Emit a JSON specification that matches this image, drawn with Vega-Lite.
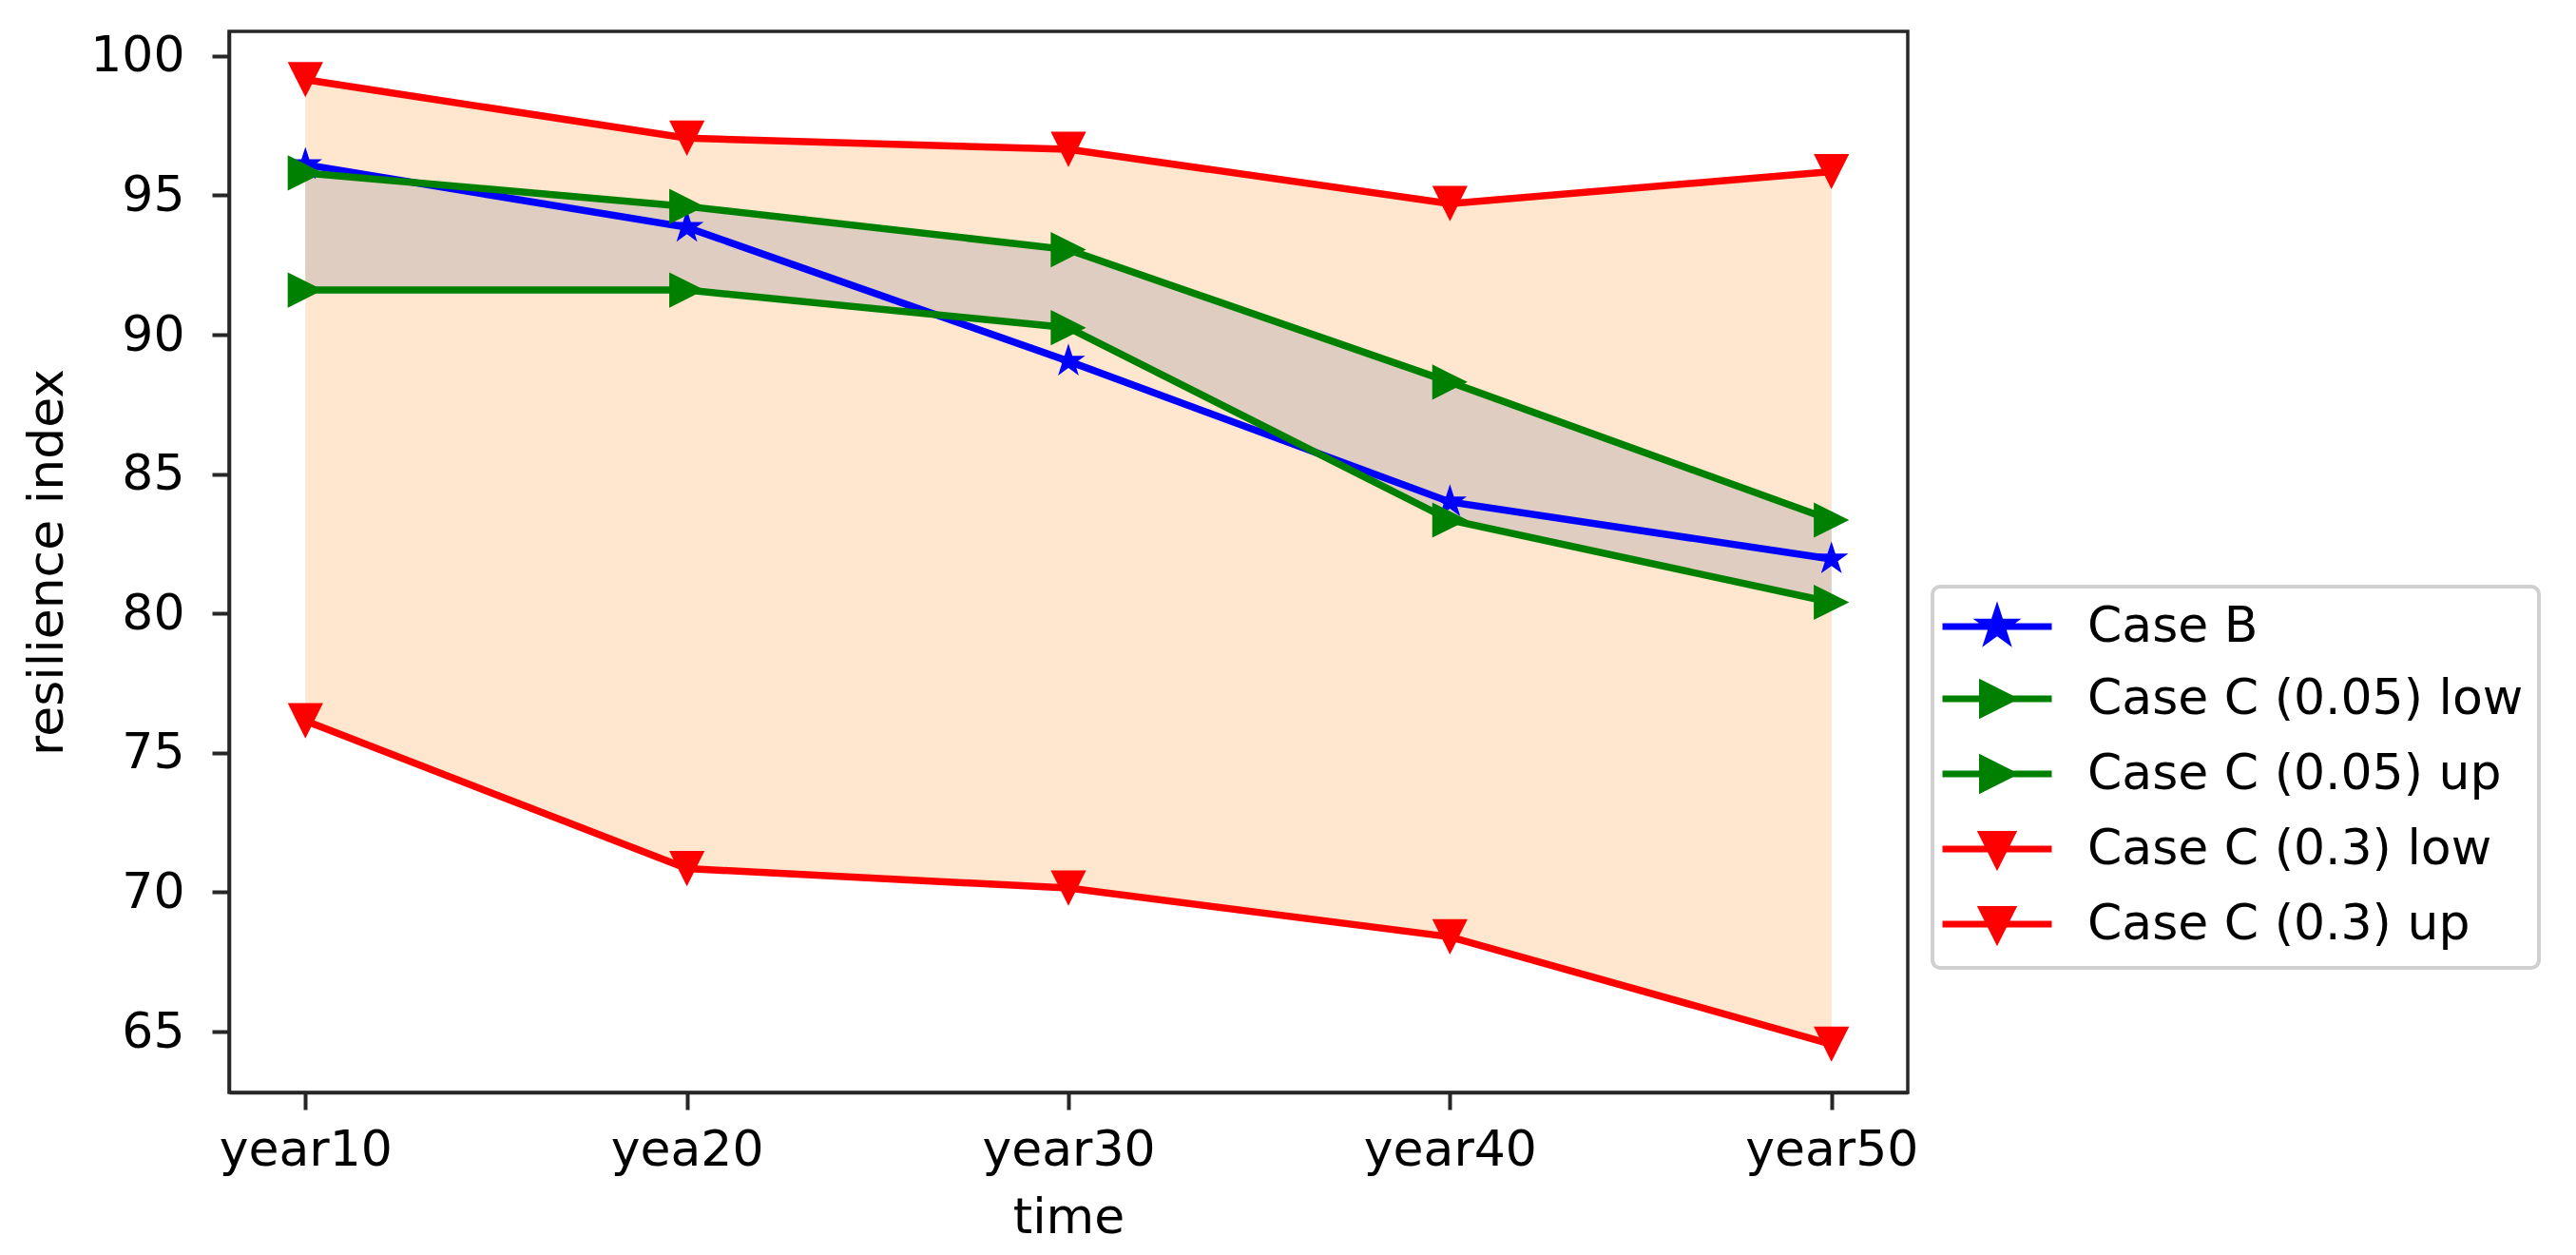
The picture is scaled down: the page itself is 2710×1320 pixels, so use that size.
{
  "$schema": "https://vega.github.io/schema/vega-lite/v6.json",
  "width": 1766,
  "height": 1116,
  "autosize": {"type": "none"},
  "padding": {"left": 241, "top": 33, "right": 703, "bottom": 171},
  "background": "white",
  "config": {
    "font": "DejaVu Sans",
    "view": {"stroke": "#262626", "strokeWidth": 3.5},
    "axis": {
      "labelFont": "DejaVu Sans", "labelFontSize": 52, "labelColor": "#000000", "labelLimit": 0,
      "titleFont": "DejaVu Sans", "titleFontSize": 52, "titleFontWeight": "normal", "titleColor": "#000000",
      "tickColor": "#262626", "tickWidth": 4, "tickSize": 18,
      "domainColor": "#262626", "domainWidth": 3.5, "grid": false
    }
  },
  "data": {
    "values": [
      {"time": "year10", "series": "Case B", "key": "B", "value": 96.1},
      {"time": "yea20", "series": "Case B", "key": "B", "value": 93.85},
      {"time": "year30", "series": "Case B", "key": "B", "value": 89.05},
      {"time": "year40", "series": "Case B", "key": "B", "value": 84.0},
      {"time": "year50", "series": "Case B", "key": "B", "value": 81.95},
      {"time": "year10", "series": "Case C (0.05) low", "key": "c05lo", "value": 91.6},
      {"time": "yea20", "series": "Case C (0.05) low", "key": "c05lo", "value": 91.6},
      {"time": "year30", "series": "Case C (0.05) low", "key": "c05lo", "value": 90.25},
      {"time": "year40", "series": "Case C (0.05) low", "key": "c05lo", "value": 83.35},
      {"time": "year50", "series": "Case C (0.05) low", "key": "c05lo", "value": 80.4},
      {"time": "year10", "series": "Case C (0.05) up", "key": "c05up", "value": 95.8},
      {"time": "yea20", "series": "Case C (0.05) up", "key": "c05up", "value": 94.6},
      {"time": "year30", "series": "Case C (0.05) up", "key": "c05up", "value": 93.05},
      {"time": "year40", "series": "Case C (0.05) up", "key": "c05up", "value": 88.3},
      {"time": "year50", "series": "Case C (0.05) up", "key": "c05up", "value": 83.35},
      {"time": "year10", "series": "Case C (0.3) low", "key": "c3lo", "value": 76.15},
      {"time": "yea20", "series": "Case C (0.3) low", "key": "c3lo", "value": 70.85},
      {"time": "year30", "series": "Case C (0.3) low", "key": "c3lo", "value": 70.15},
      {"time": "year40", "series": "Case C (0.3) low", "key": "c3lo", "value": 68.4},
      {"time": "year50", "series": "Case C (0.3) low", "key": "c3lo", "value": 64.55},
      {"time": "year10", "series": "Case C (0.3) up", "key": "c3up", "value": 99.15},
      {"time": "yea20", "series": "Case C (0.3) up", "key": "c3up", "value": 97.05},
      {"time": "year30", "series": "Case C (0.3) up", "key": "c3up", "value": 96.65},
      {"time": "year40", "series": "Case C (0.3) up", "key": "c3up", "value": 94.7},
      {"time": "year50", "series": "Case C (0.3) up", "key": "c3up", "value": 95.85}
    ]
  },
  "encoding": {
    "x": {
      "field": "time", "type": "ordinal",
      "sort": ["year10", "yea20", "year30", "year40", "year50"],
      "scale": {"type": "point", "padding": 0.2},
      "axis": {"title": "time", "labelAngle": 0, "labelPadding": 17, "titlePadding": 20}
    }
  },
  "layer": [
    {
      "transform": [{"pivot": "key", "value": "value", "groupby": ["time"]}],
      "mark": {"type": "area", "color": "#FFE6CE", "opacity": 1},
      "encoding": {
        "y": {"field": "c3lo", "type": "quantitative",
              "scale": {"domain": [62.82, 100.88], "nice": false, "zero": false},
              "axis": {"title": "resilience index", "values": [65, 70, 75, 80, 85, 90, 95, 100], "labelPadding": 29, "titlePadding": 18}},
        "y2": {"field": "c3up"}
      }
    },
    {
      "transform": [{"pivot": "key", "value": "value", "groupby": ["time"]}],
      "mark": {"type": "area", "color": "#DECDC0", "opacity": 1},
      "encoding": {
        "y": {"field": "c05lo", "type": "quantitative", "axis": {"title": "resilience index"}},
        "y2": {"field": "c05up"}
      }
    },
    {
      "mark": {"type": "line", "strokeWidth": 7.5},
      "encoding": {
        "y": {"field": "value", "type": "quantitative", "axis": {"title": "resilience index"}},
        "color": {
          "field": "series", "type": "nominal",
          "scale": {
            "domain": ["Case B", "Case C (0.05) low", "Case C (0.05) up", "Case C (0.3) low", "Case C (0.3) up"],
            "range": ["#0000FF", "#008000", "#008000", "#FF0000", "#FF0000"]
          },
          "legend": {
            "title": null, "orient": "none", "legendX": 1792, "legendY": 584,
            "labelFont": "DejaVu Sans", "labelFontSize": 52, "labelColor": "#000000", "labelLimit": 0,
            "symbolSize": 400, "symbolOffset": 26, "labelOffset": 69,
            "rowPadding": 19, "padding": 16,
            "strokeColor": "#D0D0D0", "fillColor": "#FFFFFF", "cornerRadius": 8,
            "encode": {
              "legend": {"update": {"strokeWidth": {"value": 4}}},
              "symbols": {"update": {
                "shape": {"signal": "datum.value == 'Case B' ? 'M-5.75,0H5.75M0,-1.55L0.348,-0.479L1.474,-0.479L0.563,0.183L0.911,1.254L0,0.592L-0.911,1.254L-0.563,0.183L-1.474,-0.479L-0.348,-0.479Z' : (indexof(datum.value, '0.05') >= 0 ? 'M-5.75,0H5.75M-1.55,-1.55L1.55,0L-1.55,1.55Z' : 'M-5.75,0H5.75M-1.55,-1.55L1.55,-1.55L0,1.55Z')"},
                "fill": {"signal": "scale('color', datum.value)"},
                "stroke": {"signal": "scale('color', datum.value)"},
                "strokeWidth": {"value": 7},
                "opacity": {"value": 1}
              }}
            }
          }
        }
      }
    },
    {
      "transform": [{"filter": "datum.key == 'B'"}],
      "mark": {"type": "point", "filled": true, "opacity": 1, "size": 576, "color": "#0000FF",
               "shape": "M0,-1.55L0.348,-0.479L1.474,-0.479L0.563,0.183L0.911,1.254L0,0.592L-0.911,1.254L-0.563,0.183L-1.474,-0.479L-0.348,-0.479Z"},
      "encoding": {
        "y": {"field": "value", "type": "quantitative", "axis": {"title": "resilience index"}}
      }
    },
    {
      "transform": [{"filter": "datum.key == 'c05lo' || datum.key == 'c05up'"}],
      "mark": {"type": "point", "filled": true, "opacity": 1, "size": 576, "color": "#008000",
               "shape": "M-1.55,-1.55L1.55,0L-1.55,1.55Z"},
      "encoding": {
        "y": {"field": "value", "type": "quantitative", "axis": {"title": "resilience index"}}
      }
    },
    {
      "transform": [{"filter": "datum.key == 'c3lo' || datum.key == 'c3up'"}],
      "mark": {"type": "point", "filled": true, "opacity": 1, "size": 576, "color": "#FF0000",
               "shape": "M-1.55,-1.55L1.55,-1.55L0,1.55Z"},
      "encoding": {
        "y": {"field": "value", "type": "quantitative", "axis": {"title": "resilience index"}}
      }
    }
  ]
}
